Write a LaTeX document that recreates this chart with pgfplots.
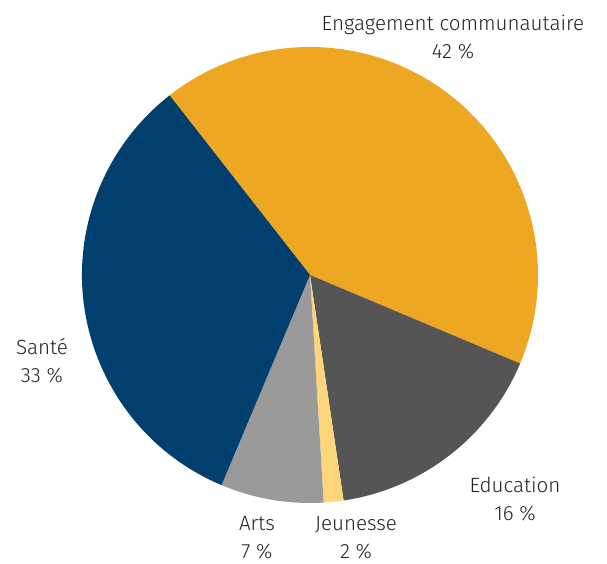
\documentclass[border=0pt]{standalone}
\usepackage{pgfplots}
\pgfplotsset{compat=1.18}
\usepackage{pgfplotstable}
\usepackage{fontspec}
\setmainfont{Fira Sans}[UprightFont=* Light]

\definecolor{engage}{HTML}{EEA722}
\definecolor{educ}{HTML}{555555}
\definecolor{jeune}{HTML}{FDD57A}
\definecolor{arts}{HTML}{9A9A9A}
\definecolor{sante}{HTML}{013F6F}
\definecolor{txt}{HTML}{222222}

% parts of the pie, clockwise from the Santé/Engagement border
\pgfplotstableread{
value colour
41.9  engage
16.3  educ
1.4   jeune
7.3   arts
33.1  sante
}\piedata

\tikzset{lbl/.style={font=\fontsize{10.3}{14}\selectfont, text=txt, align=center, inner sep=0pt}}

\begin{document}
\begin{tikzpicture}
\begin{axis}[
    x=0.5pt, y=0.5pt,
    xmin=0, xmax=607, ymin=0, ymax=564,
    hide axis, clip=false,
]
\path (rel axis cs:0,0) rectangle (rel axis cs:1,1);
\def\startangle{128.0}
\pgfplotsforeachungrouped \i in {0,...,4} {
    \pgfplotstablegetelem{\i}{value}\of\piedata
    \let\val\pgfplotsretval
    \pgfplotstablegetelem{\i}{colour}\of\piedata
    \let\col\pgfplotsretval
    \pgfmathsetmacro\endangle{\startangle-3.6*\val}
    \edef\temp{\noexpand\fill[\col] (axis cs:310,289) -- ++(\startangle:114pt)
        arc[start angle=\startangle, end angle=\endangle, radius=114pt] -- cycle;}
    \temp
    \global\let\startangle\endangle
}
\node[lbl] at (axis cs:453,527) {Engagement communautaire\\42~\%};
\node[lbl] at (axis cs:42,203) {Santé\\33~\%};
\node[lbl] at (axis cs:515,65) {Education\\16~\%};
\node[lbl] at (axis cs:356,26) {Jeunesse\\2~\%};
\node[lbl] at (axis cs:257,26) {Arts\\7~\%};
\end{axis}
\end{tikzpicture}
\end{document}
